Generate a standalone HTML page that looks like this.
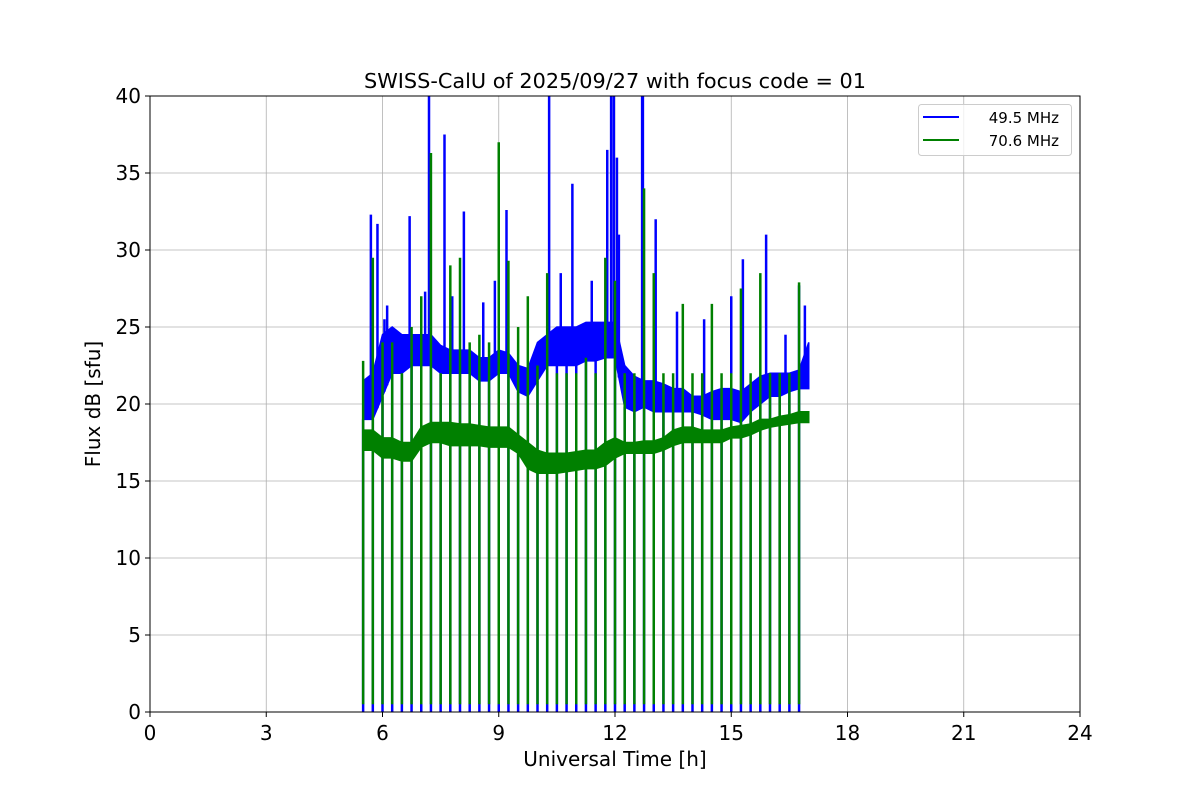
<!DOCTYPE html>
<html><head><meta charset="utf-8"><style>
body{margin:0;background:#fff;}
svg text{font-family:"DejaVu Sans","Liberation Sans",sans-serif;fill:#000;}
</style></head><body>
<svg id="chart" width="1200" height="800">
<rect width="1200" height="800" fill="#fff"/>
<g id="grid"></g>
<defs><clipPath id="clip"><rect x="150" y="96" width="930" height="616"/></clipPath></defs>
<g id="series" clip-path="url(#clip)"></g>
<rect x="150" y="96" width="930" height="616" fill="none" stroke="#000" stroke-width="1"/>
<g id="axes"></g>
<text x="615" y="88" font-size="20.8" text-anchor="middle">SWISS-CalU of 2025/09/27 with focus code = 01</text>
<text x="615" y="766" font-size="20" text-anchor="middle">Universal Time [h]</text>
<text x="100" y="404" font-size="20" text-anchor="middle" transform="rotate(-90 100 404)">Flux dB [sfu]</text>
<g>
<rect x="918.5" y="104.5" width="153" height="51" rx="3" fill="#fff" fill-opacity="0.8" stroke="#ccc"/>
<line x1="923" y1="117" x2="959" y2="117" stroke="#0000ff" stroke-width="2"/>
<text x="1059" y="123" font-size="15" text-anchor="end">49.5 MHz</text>
<line x1="923" y1="140" x2="959" y2="140" stroke="#008000" stroke-width="2"/>
<text x="1059" y="146" font-size="15" text-anchor="end">70.6 MHz</text>
</g>
</svg>
<script>
const xTicks=[0,3,6,9,12,15,18,21,24];
const yTicks=[0,5,10,15,20,25,30,35,40];
const knotTimes=[5.5,5.75,6.0,6.25,6.5,6.75,7.0,7.25,7.5,7.75,8.0,8.25,8.5,8.75,9.0,9.25,9.5,9.75,10.0,10.25,10.5,10.75,11.0,11.25,11.5,11.75,12.0,12.25,12.5,12.75,13.0,13.25,13.5,13.75,14.0,14.25,14.5,14.75,15.0,15.25,15.5,15.75,16.0,16.25,16.5,16.75,17.0];
const blueLow=[19,19,20.5,22,22,22.5,22.5,22.5,22,22,22,22,21.5,21.5,22,22,20.8,20.5,21.5,22.5,22.5,22.5,22.5,22.8,22.8,23,23,19.8,19.5,19.8,19.5,19.5,19.5,19.5,19.5,19.3,19,19,19,18.8,19.5,20,20.5,20.5,20.8,21,21];
const blueHigh=[21.5,22,24.5,25,24.5,24.5,24.5,24.5,23.8,23.5,23.5,23.5,23,23,23.5,23.3,22.5,22.3,24,24.5,25,25,25,25.3,25.3,25.3,25.3,22.5,21.8,21.5,21.5,21.3,21,21,20.5,20.5,20.8,21,21,20.8,21.3,21.8,22,22,22,22.2,24];
const greenLow=[17,17,16.5,16.5,16.3,16.3,17.2,17.5,17.5,17.3,17.3,17.3,17.3,17.2,17.2,17.2,16.8,15.8,15.5,15.5,15.5,15.6,15.7,15.8,15.8,16,16.5,16.8,16.8,16.8,16.8,17,17.3,17.5,17.5,17.5,17.5,17.5,17.8,17.8,18,18.3,18.5,18.6,18.7,18.8,18.8];
const greenHigh=[18.3,18.3,17.8,17.8,17.5,17.5,18.5,18.8,18.8,18.8,18.7,18.7,18.6,18.5,18.5,18.5,18,17.5,17,16.8,16.8,16.8,16.9,17,17,17.5,17.8,17.5,17.5,17.6,17.6,17.8,18.3,18.5,18.5,18.3,18.3,18.3,18.5,18.6,18.7,19,19,19.2,19.3,19.5,19.5];
const dipTimes=[5.5,5.75,6.0,6.25,6.5,6.75,7.0,7.25,7.5,7.75,8.0,8.25,8.5,8.75,9.0,9.25,9.5,9.75,10.0,10.25,10.5,10.75,11.0,11.25,11.5,11.75,12.0,12.25,12.5,12.75,13.0,13.25,13.5,13.75,14.0,14.25,14.5,14.75,15.0,15.25,15.5,15.75,16.0,16.25,16.5,16.75];
const greenDipPeak=[22.8,29.5,24,24,22,25,27,36.3,22,29,29.5,24,24.5,24,37,29.3,25,27,22.5,28.5,22,22,22,23,22,29.5,28,22,22,34,28.5,22,22,26.5,22,22,26.5,22,22,27.5,22,28.5,22,22,22,27.9];
const blueDipBottom=0.5;
const blueSpikeTimes=[5.7,5.87,6.05,6.12,6.7,7.1,7.2,7.6,7.8,8.1,8.6,8.9,9.2,10.3,10.6,10.9,11.4,11.8,11.9,11.97,12.05,12.1,12.7,12.72,13.05,13.6,14.3,15.0,15.3,15.9,16.4,16.75,16.9];
const blueSpikePeak=[32.3,31.7,25.5,26.4,32.2,27.3,40,37.5,27,32.5,26.6,28,32.6,40,28.5,34.3,28,36.5,40,40,36,31,40,40,32,26,25.5,27,29.4,31,24.5,27.7,26.4];

const X=t=>150+t*930/24, Y=v=>712-v*616/40;
const NS='http://www.w3.org/2000/svg';
function mk(parent,tag,attrs){const e=document.createElementNS(NS,tag);for(const k in attrs)e.setAttribute(k,attrs[k]);parent.appendChild(e);return e;}
const grid=document.getElementById('grid'),axes=document.getElementById('axes'),ser=document.getElementById('series');
xTicks.forEach(t=>{
 const g=mk(grid,'line',{x1:X(t),x2:X(t),y1:96,y2:712,stroke:'#b0b0b0','stroke-width':0.8});
 
 
 mk(axes,'line',{x1:X(t),x2:X(t),y1:712,y2:717,stroke:'#000'});
 const tx=mk(axes,'text',{x:X(t),y:740,'font-size':20,'text-anchor':'middle'});tx.textContent=t;
 
 
});
yTicks.forEach(v=>{
 const g=mk(grid,'line',{x1:150,x2:1080,y1:Y(v),y2:Y(v),stroke:'#b0b0b0','stroke-width':0.8});
 
 
 mk(axes,'line',{x1:145,x2:150,y1:Y(v),y2:Y(v),stroke:'#000'});
 const tx=mk(axes,'text',{x:141,y:Y(v)+7,'font-size':20,'text-anchor':'end'});tx.textContent=v;
 
 
});
function band(low,high,color,name){
 let d='M'+knotTimes.map((t,i)=>X(t)+','+Y(high[i])).join('L');
 d+='L'+knotTimes.map((t,i)=>X(t)+','+Y(low[i])).reverse().join('L')+'Z';
 const p=mk(ser,'path',{d:d,fill:color,stroke:color,'stroke-width':1.5});
 
 
}
function lerp(arr,t){for(let i=0;i<knotTimes.length-1;i++){if(t<=knotTimes[i+1]){const f=(t-knotTimes[i])/(knotTimes[i+1]-knotTimes[i]);return arr[i]+f*(arr[i+1]-arr[i]);}}return arr[arr.length-1];}
band(blueLow,blueHigh,'#0000ff','blue-band');
blueSpikeTimes.forEach((t,i)=>{
 const l=mk(ser,'line',{x1:X(t),x2:X(t),y1:Y(lerp(blueLow,t)),y2:Y(blueSpikePeak[i]),stroke:'#0000ff','stroke-width':2.5});
 
 
});
dipTimes.forEach(t=>{
 const l=mk(ser,'line',{x1:X(t),x2:X(t),y1:Y(lerp(blueLow,t)),y2:Y(blueDipBottom)+8,stroke:'#0000ff','stroke-width':2.5});
 
 
});
band(greenLow,greenHigh,'#008000','green-band');
dipTimes.forEach((t,i)=>{
 const l=mk(ser,'line',{x1:X(t),x2:X(t),y1:Y(greenDipPeak[i]),y2:Y(blueDipBottom),stroke:'#008000','stroke-width':2.5});
 
 
});
</script>
</body></html>
